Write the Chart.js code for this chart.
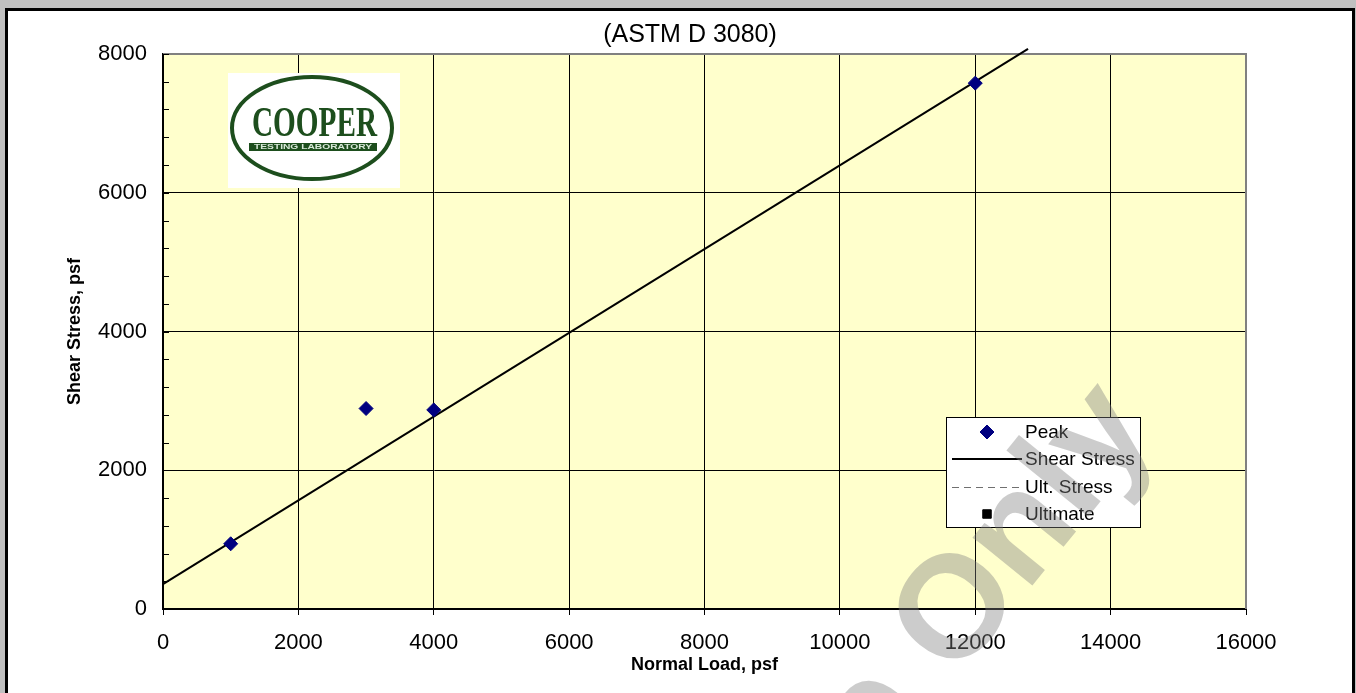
<!DOCTYPE html>
<html>
<head>
<meta charset="utf-8">
<script src="https://cdn.jsdelivr.net/npm/chart.js@4.4.0/dist/chart.umd.min.js"></script>
<style>
html,body{margin:0;padding:0;background:#c0c0c0;width:1356px;height:693px;overflow:hidden;}
#frame{position:absolute;left:5px;top:8px;width:1344px;height:720px;border:3px solid #000;background:#fff;}
#wrap{position:absolute;left:0;top:0;width:1356px;height:693px;}
</style>
</head>
<body>
<div id="frame"></div>
<div id="wrap"><canvas id="c" width="1356" height="693"></canvas></div>
<script>
// ---- data ----
const titleText = '(ASTM D 3080)';
const xTitle = 'Normal Load, psf';
const yTitle = 'Shear Stress, psf';
const peakX = [1000, 3000, 4000, 12000];
const peakY = [940, 2890, 2870, 7580];
const shearX = [0, 12780];
const shearY = [360, 8075];
const ultLineX = [];
const ultLineY = [];
const ultPtX = [];
const ultPtY = [];
const xRange = [0, 16000];
const xStep = 2000;
const yRange = [0, 8000];
const yStep = 2000;
const yMinorStep = 400;
const seriesLabels = ['Peak', 'Shear Stress', 'Ult. Stress', 'Ultimate'];
const watermarkText = 'For Reference Only';

const FONT = "'Liberation Sans', Arial, sans-serif";
Chart.defaults.font.family = FONT;
Chart.defaults.color = '#000';

const pts = (xs, ys) => xs.map((x, i) => ({x: x, y: ys[i]}));
const plainNum = v => String(v);

const plotBg = {
  id: 'plotBg',
  beforeDraw(chart) {
    const {ctx, chartArea: a} = chart;
    ctx.save();
    ctx.fillStyle = '#FFFFCC';
    ctx.fillRect(a.left, a.top, a.right - a.left, a.bottom - a.top);
    ctx.restore();
  }
};

const frameAndLogo = {
  id: 'frameAndLogo',
  beforeDatasetsDraw(chart) {
    const {ctx, chartArea: a, scales} = chart;
    ctx.save();
    // gray top/right plot border
    ctx.strokeStyle = '#808080';
    ctx.lineWidth = 2;
    ctx.beginPath();
    ctx.moveTo(a.left, a.top);
    ctx.lineTo(a.right, a.top);
    ctx.lineTo(a.right, a.bottom);
    ctx.stroke();
    // minor ticks on y axis (inside)
    ctx.strokeStyle = '#000';
    ctx.lineWidth = 1;
    for (let v = yRange[0]; v <= yRange[1]; v += yMinorStep) {
      const y = Math.round(scales.y.getPixelForValue(v)) + 0.5;
      ctx.beginPath();
      ctx.moveTo(a.left, y);
      ctx.lineTo(a.left + 6, y);
      ctx.stroke();
    }
    // logo
    const green = '#1d4e1d';
    ctx.fillStyle = '#fff';
    ctx.fillRect(228, 73, 172, 115);
    ctx.strokeStyle = green;
    ctx.lineWidth = 4;
    ctx.beginPath();
    ctx.ellipse(312, 128, 80, 51, 0, 0, Math.PI * 2);
    ctx.stroke();
    ctx.fillStyle = green;
    ctx.font = "bold 42px 'Liberation Serif', 'DejaVu Serif', serif";
    ctx.textBaseline = 'alphabetic';
    ctx.textAlign = 'left';
    const w = ctx.measureText('COOPER').width;
    ctx.save();
    ctx.translate(252, 136);
    ctx.scale(125 / w, 1);
    ctx.fillText('COOPER', 0, 0);
    ctx.restore();
    ctx.fillRect(249, 143, 128, 8);
    ctx.fillStyle = '#d8e8d8';
    ctx.font = "bold 7px " + FONT;
    ctx.textAlign = 'center';
    ctx.textBaseline = 'middle';
    const w2 = ctx.measureText('TESTING LABORATORY').width;
    ctx.save();
    ctx.translate(313, 147.5);
    ctx.scale(118 / w2, 1);
    ctx.fillText('TESTING LABORATORY', 0, 0);
    ctx.restore();
    ctx.restore();
  }
};

const boxLegend = {
  id: 'boxLegend',
  afterDatasetsDraw(chart) {
    const {ctx} = chart;
    const bx = 946, by = 417, bw = 194, bh = 110;
    ctx.save();
    ctx.fillStyle = '#fff';
    ctx.fillRect(bx, by, bw, bh);
    ctx.strokeStyle = '#000';
    ctx.lineWidth = 1;
    ctx.strokeRect(bx + 0.5, by + 0.5, bw, bh);
    const rowY = [432, 459, 487, 514];
    chart.data.datasets.forEach((ds, i) => {
      const y = rowY[i];
      if (ds.showLine) {
        ctx.save();
        ctx.strokeStyle = ds.borderColor;
        ctx.lineWidth = ds.borderWidth;
        ctx.setLineDash(ds.borderDash || []);
        const yy = ds.borderWidth % 2 ? y + 0.5 : y;
        ctx.beginPath();
        ctx.moveTo(952, yy);
        ctx.lineTo(1022, yy);
        ctx.stroke();
        ctx.restore();
      } else {
        ctx.save();
        ctx.fillStyle = ds.backgroundColor;
        ctx.strokeStyle = ds.borderColor;
        ctx.lineWidth = 1;
        Chart.helpers.drawPoint(ctx, {pointStyle: ds.pointStyle, radius: ds.pointRadius, borderWidth: 1}, 987, y);
        ctx.restore();
      }
      ctx.fillStyle = '#000';
      ctx.font = '19px ' + FONT;
      ctx.textAlign = 'left';
      ctx.textBaseline = 'middle';
      ctx.fillText(ds.label, 1025, y + 1);
    });
    ctx.restore();
  }
};

const watermark = {
  id: 'watermark',
  afterDraw(chart) {
    const {ctx} = chart;
    ctx.save();
    ctx.fillStyle = 'rgba(128,128,128,0.4)';
    ctx.font = 'bold 145px ' + FONT;
    ctx.textAlign = 'left';
    ctx.textBaseline = 'alphabetic';
    ctx.translate(955, 681);
    ctx.rotate(-51 * Math.PI / 180);
    const pre = watermarkText.slice(0, watermarkText.lastIndexOf('Only'));
    ctx.fillText(watermarkText, -ctx.measureText(pre).width, 0);
    ctx.restore();
  }
};

new Chart(document.getElementById('c'), {
  type: 'scatter',
  data: {
    datasets: [
      {label: seriesLabels[0], data: pts(peakX, peakY), pointStyle: 'rectRot', pointRadius: 7,
       backgroundColor: '#000080', borderColor: '#000080', borderWidth: 1, showLine: false},
      {label: seriesLabels[1], data: pts(shearX, shearY), showLine: true, borderColor: '#000',
       borderWidth: 2, pointRadius: 0, clip: false},
      {label: seriesLabels[2], data: pts(ultLineX, ultLineY), showLine: true, borderColor: '#707070',
       borderWidth: 1, borderDash: [7, 5], pointRadius: 0},
      {label: seriesLabels[3], data: pts(ultPtX, ultPtY), pointStyle: 'rect', pointRadius: 6,
       backgroundColor: '#000', borderColor: '#000', showLine: false}
    ]
  },
  options: {
    responsive: false,
    animation: false,
    layout: {padding: {left: 24, right: 0, top: 0, bottom: 0}},
    plugins: {
      legend: {display: false},
      tooltip: {enabled: false},
      title: {display: true, text: titleText, color: '#000',
              font: {size: 25, weight: 'normal'}, padding: {top: 20, bottom: 4}}
    },
    scales: {
      x: {
        type: 'linear', min: xRange[0], max: xRange[1],
        ticks: {stepSize: xStep, font: {size: 22}, color: '#000', padding: 15, callback: plainNum},
        grid: {color: '#000', lineWidth: 1, tickLength: 6, tickColor: '#000'},
        border: {color: '#000', width: 2},
        title: {display: true, text: xTitle, color: '#000', font: {size: 18, weight: 'bold'}, padding: {top: 0, bottom: 17}},
        afterFit(s) { s.height = 84; }
      },
      y: {
        type: 'linear', min: yRange[0], max: yRange[1],
        ticks: {stepSize: yStep, font: {size: 22}, color: '#000', padding: 16, callback: plainNum},
        grid: {color: '#000', lineWidth: 1, drawTicks: false},
        border: {color: '#000', width: 2},
        title: {display: true, text: yTitle, color: '#000', font: {size: 18, weight: 'bold'}, padding: {top: 40, bottom: 0}},
        afterFit(s) { s.width = 139; }
      },
      yRight: {
        type: 'linear', position: 'right', display: true, min: yRange[0], max: yRange[1],
        ticks: {display: false}, grid: {display: false, drawOnChartArea: false}, border: {display: false},
        afterFit(s) { s.width = 110; }
      }
    }
  },
  plugins: [plotBg, frameAndLogo, boxLegend, watermark]
});
</script>
</body>
</html>
